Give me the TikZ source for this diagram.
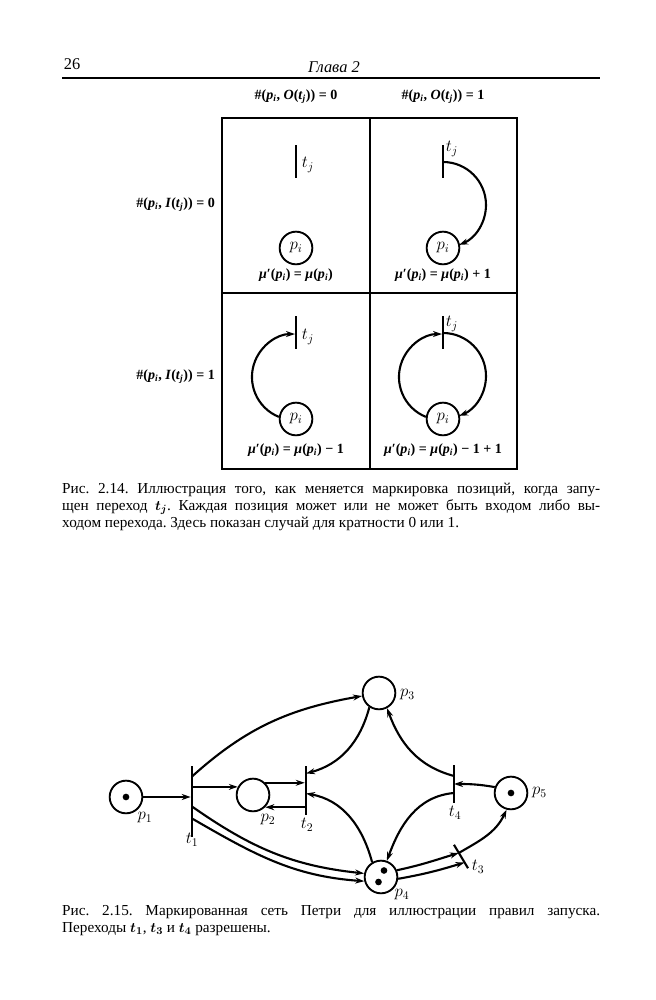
\documentclass[tikz,border=0pt]{standalone}
\usepackage{fontspec}
\setmainfont{Liberation Serif}
\usetikzlibrary{positioning,calc,arrows.meta}
\frenchspacing
\newcommand\pv[2]{\textit{#1}\textsubscript{\textit{#2}}}

\begin{document}
\begin{tikzpicture}[x=0.3mm,y=0.3mm,font=\fontsize{14}{16}\selectfont,
  placec/.style={circle,draw,line width=1.6pt,minimum size=9.8mm,inner sep=0pt},
  tbar/.style={fill,inner sep=0pt,minimum width=1.8pt},
  tok/.style={circle,fill,inner sep=0pt,minimum size=2mm},
  flow/.style={line width=1.8pt,-{Stealth[length=2.7mm,width=1.8mm]}},
  frm/.style={font=\fontsize{12}{14}\selectfont\bfseries},
  capt/.style={anchor=north west,text width=161.4mm,align=justify,inner sep=0pt,font=\fontsize{13}{14.5}\selectfont}]
  \useasboundingbox (0,0) rectangle (656,1000);
  \node (pnum) at (72,936) {26};
  \node[font=\fontsize{14}{16}\selectfont\itshape] (run) at (334,933) {Глава 2};
  \draw[line width=1.2pt] (62,922) -- (600,922);

  \draw[line width=1.4pt] (222,531) rectangle (517,882) (370,531) -- (370,882) (222,707) -- (517,707);
  \node[frm] (hc0) at (296,903) {\#(\pv{p}{i}, \textit{O}(\pv{t}{j})) = 0};
  \node[frm] (hc1) at (443,903) {\#(\pv{p}{i}, \textit{O}(\pv{t}{j})) = 1};
  \node[frm,anchor=east] (hr0) at (219,795) {\#(\pv{p}{i}, \textit{I}(\pv{t}{j})) = 0};
  \node[frm,anchor=east] (hr1) at (219,623) {\#(\pv{p}{i}, \textit{I}(\pv{t}{j})) = 1};
  \foreach \n/\x/\y in {a/296/838,b/443/838,c/296/667,d/443/667}{
    \node[tbar,minimum height=9.9mm] (t\n) at (\x,\y) {};
    \node[placec] (p\n) at (\x,\y-86) {$p_i$};
  }
  \node (lta) at (308,835) {$t_j$};
  \node (ltb) at (452,851) {$t_j$};
  \node (ltc) at (308,663) {$t_j$};
  \node (ltd) at (452,676) {$t_j$};
  \node[frm] (fa) at (296,725) {\textit{μ}′(\pv{p}{i}) = \textit{μ}(\pv{p}{i})};
  \node[frm] (fb) at (443,725) {\textit{μ}′(\pv{p}{i}) = \textit{μ}(\pv{p}{i}) + 1};
  \node[frm] (fc) at (296,550) {\textit{μ}′(\pv{p}{i}) = \textit{μ}(\pv{p}{i}) − 1};
  \node[frm] (fd) at (443,550) {\textit{μ}′(\pv{p}{i}) = \textit{μ}(\pv{p}{i}) − 1 + 1};
  \draw[flow] (tb.center) arc[start angle=90,end angle=-68,radius=43];
  \draw[flow] (pc.173) arc[start angle=248,end angle=90,radius=43];
  \draw[flow] (pd.173) arc[start angle=248,end angle=90,radius=43];
  \draw[flow] (td.center) arc[start angle=90,end angle=-68,radius=43];

  \node[capt] (cap14) at (62,517) {Рис. 2.14. Иллюстрация того, как меняется маркировка позиций, когда запу-\linebreak щен переход {\boldmath$t_j$}. Каждая позиция может или не может быть входом либо вы-\linebreak ходом перехода. Здесь показан случай для кратности 0 или~1.};

  \node[placec] (p1) at (126,203) {};
  \node[tok] (k1) at (p1) {};
  \node[tbar,minimum height=21.3mm] (t1) at (192,198.5) {};
  \node[placec] (p2) at (253,205) {};
  \node[tbar,minimum height=14.7mm] (t2) at (306,209.5) {};
  \node[placec] (p3) at (379,307) {};
  \node[tbar,minimum height=11.4mm] (t4) at (454,216) {};
  \node[placec] (p5) at (511,207) {};
  \node[tok] (k5) at (p5) {};
  \node[placec] (p4) at (381,123) {};
  \node[tok] (k4a) at ($(p4)+(3,6.5)$) {};
  \node[tok] (k4b) at ($(p4)+(-2.5,-5)$) {};
  \node[tbar,minimum height=8.2mm,rotate=31] (t3) at (461,143.5) {};
  \node (lp1) at (145,182) {$p_1$};
  \node (lp2) at (268,180) {$p_2$};
  \node[anchor=west] (lp3) at (396,305) {$p_3$};
  \node (lp4) at (402,105) {$p_4$};
  \node[anchor=west] (lp5) at (528,207) {$p_5$};
  \node (lt1) at (192,160) {$t_1$};
  \node (lt2) at (307,175) {$t_2$};
  \node (lt3) at (478,133) {$t_3$};
  \node (lt4) at (455,187) {$t_4$};
  \draw[flow] (p1) -- (p1 -| t1.west);
  \draw[flow] (p2.152 -| t1.east) -- (p2.152);
  \draw[flow] (p2.45) -- (p2.45 -| t2.west);
  \draw[flow] (p2.-45 -| t2.west) -- (p2.-45);
  \draw[flow] ($(t1)+(0,25)$) to[out=42,in=190] (p3);
  \draw[flow] (p3.236) to[out=255,in=15] ($(t2)+(0,17)$);
  \draw[flow] ($(t4)+(0,8)$) to[out=165,in=-70] (p3.-62);
  \draw[flow] (p5.160) to[out=170,in=0] (t4.center);
  \draw[flow] ($(t4)+(0,-9)$) to[out=185,in=70] (p4.70);
  \draw[flow] (p4.121) to[out=105,in=-10] ($(t2)+(0,-3)$);
  \draw[flow] ($(t1)+(0,-5)$) to[out=-35,in=174] (p4.168);
  \draw[flow] ($(t1)+(0,-17)$) to[out=-30,in=176] (p4.194);
  \draw[flow] (p4.23) to[out=12,in=197] ($(t3.north)!0.35!(t3.south)$);
  \draw[flow] (p4.-6) to[out=10,in=197] ($(t3.north)!0.75!(t3.south)$);
  \draw[flow] ($(t3.north)!0.35!(t3.south)$) to[out=30,in=245] (p5.255);

  \node[capt] (cap15) at (62,95) {Рис. 2.15. Маркированная сеть Петри для иллюстрации правил запуска.\linebreak Переходы {\boldmath$t_1$}, {\boldmath$t_3$} и {\boldmath$t_4$} разрешены.};
\end{tikzpicture}
\end{document}
